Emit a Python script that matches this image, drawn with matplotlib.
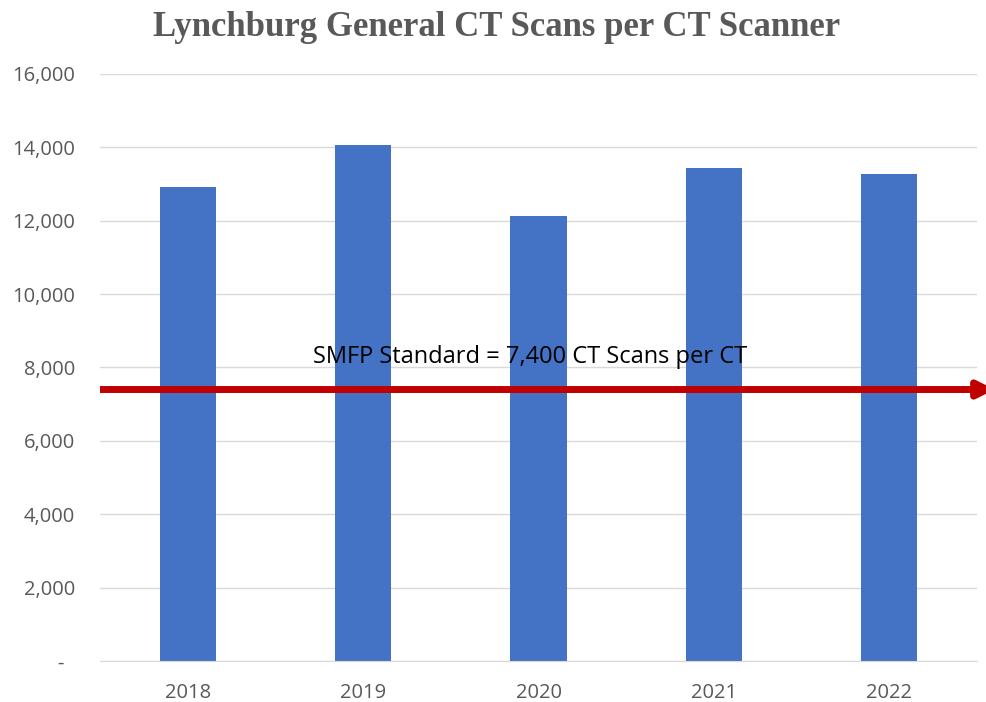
import matplotlib
matplotlib.use("Agg")
import matplotlib.pyplot as plt
from matplotlib.ticker import FuncFormatter

years = ["2018", "2019", "2020", "2021", "2022"]
scans_per_ct = [12930, 14070, 12120, 13430, 13275]
standard = 7400
standard_label = "SMFP Standard = 7,400 CT Scans per CT"
title = "Lynchburg General CT Scans per CT Scanner"

fig = plt.figure(figsize=(9.87, 7.02), dpi=100)
ax = fig.add_axes([0.1013, 0.0584, 0.8887, 0.8362])

x = range(len(years))
ax.bar(x, scans_per_ct, width=0.32, color="#4472C4", zorder=2)

ax.set_xlim(-0.5, len(years) - 0.5)
ax.set_ylim(0, 16000)
ax.set_yticks(range(0, 16001, 2000))
ax.yaxis.set_major_formatter(FuncFormatter(lambda v, p: "-  " if v == 0 else f"{int(v):,}"))
ax.set_xticks(list(x))
ax.set_xticklabels(years)

ax.grid(axis="y", color="#D9D9D9", linewidth=1, zorder=0)
for s in ["top", "right", "left"]:
    ax.spines[s].set_visible(False)
ax.spines["bottom"].set_color("#D9D9D9")
ax.tick_params(axis="both", length=0, colors="#595959", labelsize=14.5)
ax.tick_params(axis="x", pad=15.5)
ax.tick_params(axis="y", pad=18)
for lbl in ax.get_xticklabels() + ax.get_yticklabels():
    lbl.set_family("Open Sans")

tr = ax.get_yaxis_transform()
ax.annotate("", xy=(1.02, standard), xycoords=tr, xytext=(0, standard), textcoords=tr,
            arrowprops=dict(arrowstyle="-|>", color="#C00000", lw=5, mutation_scale=24,
                            shrinkA=0, shrinkB=0, capstyle="butt"),
            annotation_clip=False, zorder=3)
ax.text(1.954, 8120, standard_label, ha="center", va="baseline",
        fontsize=17, family="Open Sans", color="#000000", zorder=4)

fig.text(0.503, 0.9487, title, ha="center", va="baseline", fontsize=25,
         family="Liberation Serif", fontweight="bold", color="#595959")

fig.savefig("out.png", dpi=100)
